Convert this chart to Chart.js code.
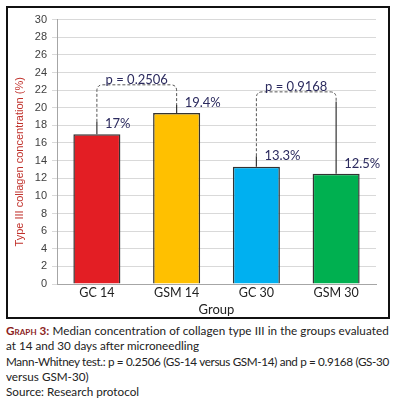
<!DOCTYPE html>
<html>
<head>
<meta charset="utf-8">
<script src="https://cdn.jsdelivr.net/npm/chart.js@4"></script>
<style>
  body { margin: 0; background: #fff; width: 394px; height: 402px; overflow: hidden; position: relative; }
  #frame { position: absolute; left: 6px; top: 6px; width: 384px; height: 313px; box-sizing: border-box; border: 2px solid #111; }
  #frame canvas { display: block; }
  #caption { position: absolute; left: 6px; top: 323px; font: 11.7px Lato, sans-serif; line-height: 15.3px; color: #222; white-space: nowrap; }
  #caption .line { display: block; }
  #caption .fit { display: inline-block; }
  #caption .tag { font-variant: small-caps; color: #8b1d1d; font-weight: bold; }
</style>
</head>
<body>
<div id="frame"><canvas id="chart" width="380" height="309"></canvas></div>
<div id="caption">
  <span class="line"><span class="fit"><span class="tag">Graph 3:</span> Median concentration of collagen type III in the groups evaluated</span></span>
  <span class="line">at 14 and 30 days after microneedling</span>
  <span class="line"><span class="fit">Mann-Whitney test.: p = 0.2506 (GS-14 versus GSM-14) and p = 0.9168 (GS-30</span></span>
  <span class="line">versus GSM-30)</span>
  <span class="line">Source: Research protocol</span>
</div>
<script>
// Data
const groups = ['GC 14', 'GSM 14', 'GC 30', 'GSM 30'];
const medians = [17, 19.4, 13.3, 12.5];
const upperValues = [18.4, 20.3, 14.5, 20.7];
const valueLabels = ['17%', '19.4%', '13.3%', '12.5%'];
const barColors = ['#e31e24', '#ffc000', '#00b0f0', '#00b050'];
const pairs = [[0, 1], [2, 3]];
const pairLevels = [22.6, 21.8];
const pairLabels = ['p = 0.2506', 'p = 0.9168'];
const yMax = 30;
const yStep = 2;

// wrapped caption lines fill the caption width, as in the printed figure
document.querySelectorAll('#caption .fit').forEach((el) => {
  const chars = el.textContent.length;
  const extra = 383 - el.getBoundingClientRect().width;
  el.style.letterSpacing = (extra / chars) + 'px';
});

const annotations = {
  id: 'annotations',
  afterDatasetsDraw(chart) {
    const ctx = chart.ctx;
    const y = chart.scales.y;
    const bars = chart.getDatasetMeta(0).data;
    const area = chart.chartArea;

    ctx.save();

    // whiskers from bar tops
    ctx.strokeStyle = '#333';
    ctx.lineWidth = 1.2;
    bars.forEach((bar, i) => {
      ctx.beginPath();
      ctx.moveTo(bar.x, y.getPixelForValue(medians[i]));
      ctx.lineTo(bar.x, y.getPixelForValue(upperValues[i]));
      ctx.stroke();
    });

    // dashed comparison brackets
    const r = 6;
    ctx.setLineDash([3, 2]);
    ctx.strokeStyle = '#555';
    ctx.lineWidth = 1;
    pairs.forEach(([a, b], k) => {
      const xl = bars[a].x;
      const xr = bars[b].x;
      const top = y.getPixelForValue(pairLevels[k]);
      ctx.beginPath();
      ctx.moveTo(xl, y.getPixelForValue(upperValues[a]));
      ctx.lineTo(xl, top + r);
      ctx.quadraticCurveTo(xl, top, xl + r, top);
      ctx.lineTo(xr - r, top);
      ctx.quadraticCurveTo(xr, top, xr, top + r);
      ctx.lineTo(xr, y.getPixelForValue(upperValues[b]));
      ctx.stroke();
    });
    ctx.setLineDash([]);

    // value labels and p values
    ctx.fillStyle = '#2b2a5e';
    ctx.font = '13px Lato, sans-serif';
    ctx.textAlign = 'left';
    ctx.textBaseline = 'bottom';
    bars.forEach((bar, i) => {
      ctx.fillText(valueLabels[i], bar.x + 8, y.getPixelForValue(medians[i]) - 4);
    });

    ctx.textAlign = 'center';
    ctx.textBaseline = 'alphabetic';
    pairs.forEach(([a, b], k) => {
      const xm = (bars[a].x + bars[b].x) / 2;
      ctx.fillText(pairLabels[k], xm, y.getPixelForValue(pairLevels[k]) - 1);
    });

    // x axis title
    ctx.fillStyle = '#222';
    ctx.textBaseline = 'middle';
    ctx.fillText('Group', (area.left + area.right) / 2, area.bottom + 26);

    // y axis title
    ctx.translate(12, (area.top + area.bottom) / 2 + 10);
    ctx.rotate(-Math.PI / 2);
    ctx.fillStyle = '#c0312b';
    ctx.font = '11px "Liberation Sans", Arial, sans-serif';
    ctx.fillText('Type III collagen concentration (%)', 0, 0);

    ctx.restore();
  }
};

new Chart(document.getElementById('chart'), {
  type: 'bar',
  data: {
    labels: groups,
    datasets: [{
      data: medians,
      backgroundColor: barColors,
      borderColor: '#333',
      borderWidth: 1.5,
      barPercentage: 0.59,
      categoryPercentage: 1
    }]
  },
  options: {
    responsive: false,
    animation: false,
    layout: { padding: { top: 9, right: 12, left: 0, bottom: 0 } },
    plugins: {
      legend: { display: false },
      tooltip: { enabled: false }
    },
    scales: {
      x: {
        afterFit: (scale) => { scale.height = 33; },
        grid: { display: false, drawTicks: false },
        border: { display: true, color: '#a6a6a6' },
        ticks: {
          color: '#222',
          font: { family: 'Lato', size: 12.5 },
          padding: 1
        }
      },
      y: {
        min: 0,
        max: yMax,
        afterFit: (scale) => { scale.width = 49; },
        grid: { color: '#d9d9d9', tickLength: 5 },
        border: { color: '#a6a6a6' },
        ticks: {
          stepSize: yStep,
          color: '#404040',
          font: { family: '"Liberation Sans", Arial', size: 11 },
          padding: 5
        }
      }
    }
  },
  plugins: [annotations]
});
</script>
</body>
</html>
